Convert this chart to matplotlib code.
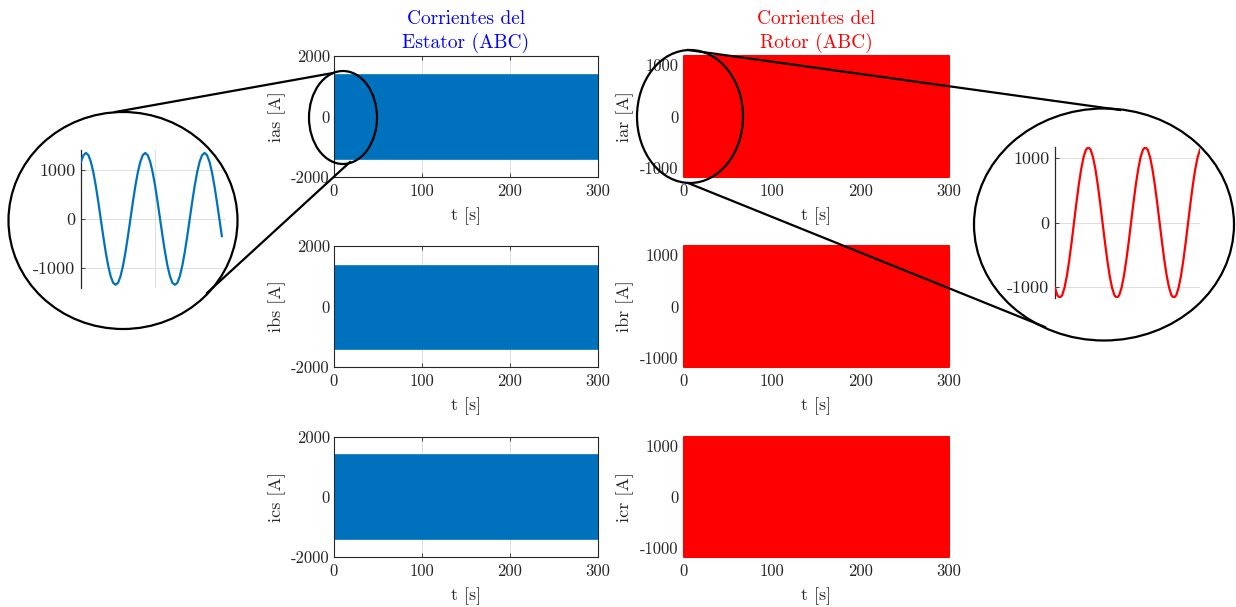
import numpy as np
import matplotlib
matplotlib.use('Agg')
import matplotlib.pyplot as plt
from matplotlib.patches import Ellipse

plt.rcParams['font.family'] = ['cmr10', 'DejaVu Serif']
plt.rcParams['mathtext.fontset'] = 'cm'
plt.rcParams['axes.unicode_minus'] = False

# full run: envelope of the (dense) sinusoidal currents, 0..300 s
t_span = [0, 300]
stator_names = ['ias [A]', 'ibs [A]', 'ics [A]']
stator_upper = [1360, 1350, 1390]
stator_lower = [-1400, -1400, -1400]
rotor_names = ['iar [A]', 'ibr [A]', 'icr [A]']
rotor_upper = [1175, 1175, 1175]
rotor_lower = [-1175, -1175, -1175]

# zoomed windows (samples every 1/24 cycle)
ias_zoom = [1169, 1304,
            1350, 1304, 1169, 955, 675, 350, 0, -350, -675, -955, -1169, -1304,
            -1345, -1304, -1169, -955, -675, -350, 0, 350, 675, 955, 1169, 1304,
            1350, 1304, 1169, 955, 675, 350, 0, -350, -675, -955, -1169, -1304,
            -1345, -1304, -1169, -955, -675, -350, 0, 350, 675, 955, 1169, 1304,
            1350, 1304, 1169, 955, 675, 350, 0, -350]
iar_zoom = [-1013, -1130,
            -1170, -1130, -1013, -827, -585, -303, 0, 303, 585, 827, 1013, 1130,
            1170, 1130, 1013, 827, 585, 303, 0, -303, -585, -827, -1013, -1130,
            -1170, -1130, -1013, -827, -585, -303, 0, 303, 585, 827, 1013, 1130,
            1170, 1130, 1013, 827, 585, 303, 0, -303, -585, -827, -1013, -1130,
            -1170, -1130, -1013, -827, -585, -303, 0, 303, 585, 827, 1013, 1130]
dt_zoom = 0.02 / 24

blue = '#0072BD'
red = '#FF0000'
axcol = '#262626'
gridcol = '#dedede'

W, H = 1236, 607
fig = plt.figure(figsize=(W / 100, H / 100), dpi=100)


def frac(x0, y0, x1, y1):
    return [x0 / W, 1 - y1 / H, (x1 - x0) / W, (y1 - y0) / H]


rows = [(56, 177), (246, 367), (437, 557)]

# stator column
for i, (y0, y1) in enumerate(rows):
    ax = fig.add_axes(frac(334, y0, 598, y1))
    ax.fill_between(t_span, stator_lower[i], stator_upper[i], color=blue,
                    lw=1.2, zorder=2)
    ax.set_xlim(0, 300)
    ax.set_ylim(-2000, 2000)
    ax.set_yticks([-2000, 0, 2000], ['-2000', '0', '2000'])
    ax.set_xticks([0, 100, 200, 300], ['0', '100', '200', '300'])
    ax.grid(True, color=gridcol, lw=0.7, zorder=0)
    ax.set_axisbelow(True)
    for s in ax.spines.values():
        s.set_color(axcol)
        s.set_linewidth(0.8)
    ax.tick_params(direction='in', length=3, width=0.6, color=axcol,
                   labelsize=12, labelcolor=axcol, top=True, right=True, pad=3)
    ax.tick_params(axis='x', pad=5)
    ax.set_ylabel(stator_names[i], fontsize=13, color=axcol, labelpad=4)
    ax.set_xlabel('t [s]', fontsize=13, color=axcol, labelpad=6)
    if i == 0:
        ax.set_title('Corrientes del\nEstator (ABC)', color='blue', fontsize=14,
                     pad=6, linespacing=1.3)

# rotor column
for i, (y0, y1) in enumerate(rows):
    ax = fig.add_axes(frac(684, y0, 949, y1))
    ax.fill_between(t_span, rotor_lower[i], rotor_upper[i], color=red,
                    lw=1.5, zorder=2, clip_on=False)
    ax.set_xlim(0, 300)
    ax.set_ylim(-1175, 1175)
    ax.set_yticks([-1000, 0, 1000], ['-1000', '0', '1000'])
    ax.set_xticks([0, 100, 200, 300], ['0', '100', '200', '300'])
    for s in ax.spines.values():
        s.set_visible(False)
    ax.tick_params(length=0, labelsize=12, labelcolor=axcol, pad=4)
    ax.tick_params(axis='x', pad=5)
    ax.set_ylabel(rotor_names[i], fontsize=13, color=axcol, labelpad=4)
    ax.set_xlabel('t [s]', fontsize=13, color=axcol, labelpad=6)
    if i == 0:
        ax.set_title('Corrientes del\nRotor (ABC)', color='red', fontsize=14,
                     pad=6, linespacing=1.3)

# zoom insets
t_ias = np.arange(len(ias_zoom)) * dt_zoom
t_iar = np.arange(len(iar_zoom)) * dt_zoom
insets = [
    (frac(81, 150, 226, 288), t_ias, ias_zoom, blue, 1410, (0, 0.0489), [0.025]),
    (frac(1055, 147, 1200, 298), t_iar, iar_zoom, red, 1172,
     (0, t_iar[-1]), [t_iar[-1]]),
]
for pos, tz, yz, col, ylim, xlim, xt in insets:
    ia = fig.add_axes(pos)
    ia.patch.set_alpha(0)
    ia.plot(tz, yz, color=col, lw=1.6, zorder=3)
    ia.set_xlim(*xlim)
    ia.set_ylim(-ylim, ylim)
    ia.set_yticks([-1000, 0, 1000], ['-1000', '0', '1000'])
    ia.set_xticks(xt, [''] * len(xt))
    ia.grid(True, color=gridcol, lw=0.7, zorder=0)
    for k in ['top', 'right', 'bottom']:
        ia.spines[k].set_visible(False)
    ia.spines['left'].set_color(axcol)
    ia.spines['left'].set_linewidth(0.9)
    ia.tick_params(axis='y', direction='in', length=3, width=0.6, color=axcol,
                   labelsize=13, labelcolor=axcol, pad=4)
    ia.tick_params(axis='x', length=0)

# overlay: circles and connector lines in pixel coordinates
ov = fig.add_axes([0, 0, 1, 1], zorder=10)
ov.set_xlim(0, W)
ov.set_ylim(H, 0)
ov.axis('off')
ov.patch.set_alpha(0)
for cx, cy, w, h in [(343, 117.5, 68, 93), (690, 116.5, 106, 133),
                     (123, 220.5, 229, 217), (1104, 224.5, 260, 232)]:
    ov.add_patch(Ellipse((cx, cy), w, h, fill=False, ec='black', lw=1.6))
for (xa, ya), (xb, yb) in [((333, 73), (115, 112)), ((350, 162), (207, 293)),
                           ((688, 50), (1120, 110)), ((688, 183), (1045, 327))]:
    ov.plot([xa, xb], [ya, yb], color='black', lw=1.6)

fig.savefig('out.png', dpi=100)
